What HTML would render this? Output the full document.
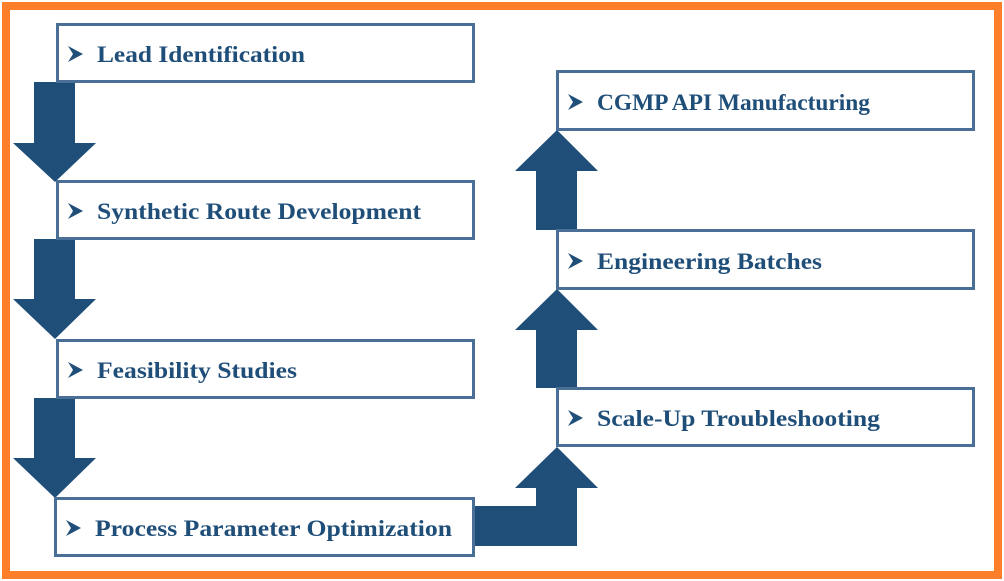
<!DOCTYPE html>
<html><head><meta charset="utf-8"><style>
body{margin:0;width:1004px;height:581px;background:#fff;position:relative;overflow:hidden}
svg{position:absolute;left:0;top:0}
.t{font-family:"Liberation Serif",serif;font-weight:bold;font-size:23px;fill:#1f4e79}
.b{fill:#fff;stroke:#4a6f96;stroke-width:3}
.a{fill:#1f4e79}
</style></head><body>
<svg width="1004" height="581" viewBox="0 0 1004 581">
<defs><polygon id="ar" points="0,0 15,8 0,16 5,8" fill="#1f4e79"/></defs>
<rect x="6" y="6" width="992" height="569" fill="none" stroke="#fd7f2a" stroke-width="8"/>
<polygon class="a" points="34,82 75,82 75,143 96,143 55,182 13,143 34,143"/>
<polygon class="a" points="34,239 75,239 75,299 96,299 55,339 13,299 34,299"/>
<polygon class="a" points="34,398 75,398 75,458 96,458 55,498 13,458 34,458"/>
<rect class="a" x="474" y="506" width="68" height="40"/>
<line x1="542" y1="506" x2="542" y2="546" stroke="#4a6f96" stroke-width="1"/>
<polygon class="a" points="536,546 577,546 577,488 598,488 557,447 515,488 536,488"/>
<polygon class="a" points="536,388 577,388 577,330 598,330 557,289 515,330 536,330"/>
<polygon class="a" points="536,230 577,230 577,171 598,171 557,130 515,171 536,171"/>
<rect class="b" x="57.5" y="24.5" width="416" height="57"/>
<rect class="b" x="57.5" y="181.5" width="416" height="57"/>
<rect class="b" x="57.5" y="340.5" width="416" height="57"/>
<rect class="b" x="55.5" y="498.5" width="418" height="57"/>
<rect class="b" x="557.5" y="71.5" width="416" height="58"/>
<rect class="b" x="557.5" y="230.5" width="416" height="58"/>
<rect class="b" x="557.5" y="388.5" width="416" height="57"/>
<use href="#ar" x="68" y="46"/>
<use href="#ar" x="68" y="203"/>
<use href="#ar" x="68" y="362"/>
<use href="#ar" x="66" y="520"/>
<use href="#ar" x="568" y="94"/>
<use href="#ar" x="568" y="253"/>
<use href="#ar" x="568" y="410"/>
<g class="t">
<text x="97" y="62" textLength="208" lengthAdjust="spacingAndGlyphs">Lead Identification</text>
<text x="97" y="219" textLength="324" lengthAdjust="spacingAndGlyphs">Synthetic Route Development</text>
<text x="97" y="378" textLength="200" lengthAdjust="spacingAndGlyphs">Feasibility Studies</text>
<text x="95" y="536" textLength="357" lengthAdjust="spacingAndGlyphs">Process Parameter Optimization</text>
<text x="597" y="110" textLength="273" lengthAdjust="spacingAndGlyphs">CGMP API Manufacturing</text>
<text x="597" y="269" textLength="225" lengthAdjust="spacingAndGlyphs">Engineering Batches</text>
<text x="597" y="426" textLength="283" lengthAdjust="spacingAndGlyphs">Scale-Up Troubleshooting</text>
</g>
</svg>
</body></html>
